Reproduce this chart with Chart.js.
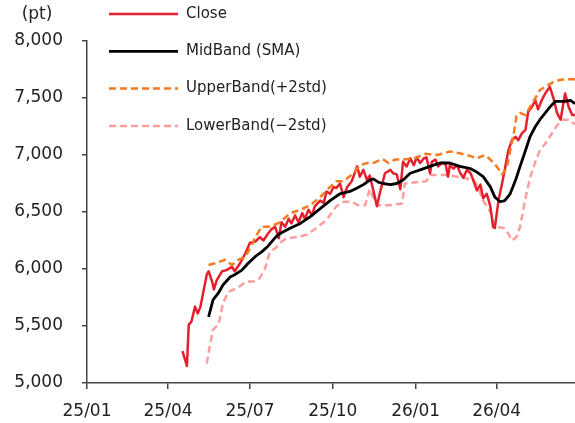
<!DOCTYPE html>
<html>
<head>
<meta charset="utf-8">
<script src="https://cdn.jsdelivr.net/npm/chart.js@4.4.1/dist/chart.umd.min.js"></script>
<style>
  html, body { margin: 0; padding: 0; background: #fff; }
</style>
</head>
<body>
<canvas id="myChart" width="575" height="423"></canvas>
<script>
// x values are days counted from 2025-01-01
var tickDays = [0, 90, 181, 273, 365, 455];
var tickLabels = ['25/01', '25/04', '25/07', '25/10', '26/01', '26/04'];

var closeDays = [106,111,113,116,120,123,126,129,133,135,
  139,141,144,150,155,161,164,170,176,181,
  187,192,196,201,205,209,213,216,220,224,
  227,231,235,239,242,246,250,253,259,263,
  266,270,274,277,281,285,289,294,300,303,
  307,311,314,318,322,326,331,337,340,344,
  348,351,355,359,363,366,370,374,377,381,
  383,387,390,394,398,401,403,407,411,414,
  418,422,426,429,433,437,440,444,448,451,
  453,457,461,464,468,472,476,479,483,487,
  490,494,498,501,505,509,514,518,522,526,
  531,535,539,542];
var closeValues = [5280,5150,5510,5540,5670,5610,5670,5790,5950,5980,
  5890,5820,5900,5980,5990,6020,5980,6050,6140,6230,
  6240,6280,6250,6310,6350,6370,6270,6410,6370,6440,
  6400,6470,6410,6490,6440,6520,6470,6550,6600,6580,
  6680,6660,6720,6710,6750,6630,6720,6770,6900,6810,
  6870,6780,6820,6690,6550,6690,6840,6870,6840,6830,
  6700,6940,6900,6970,6910,6980,6930,6970,6980,6840,
  6940,6960,6900,6930,6930,6810,6910,6880,6910,6850,
  6800,6870,6840,6780,6690,6740,6620,6660,6550,6370,
  6360,6600,6750,6870,7040,7130,7160,7130,7190,7220,
  7380,7420,7480,7400,7480,7540,7600,7500,7370,7310,
  7540,7420,7350,7350];

var midDays = [135,140,146,151,159,164,172,179,187,194, 201,209,214,226,237,248,259,270,281,292,
  300,307,314,318,324,329,337,344,351,359, 370,381,392,403,414,426,433,440,448,453,
  459,464,470,476,481,487,492,498,503,509, 514,520,526,531,537,542];
var midValues = [5580,5730,5790,5860,5930,5950,5990,6050,6110,6150, 6200,6275,6310,6360,6400,6460,6530,6600,6660,6680,
  6710,6740,6780,6790,6760,6750,6740,6750,6780,6840, 6870,6900,6930,6930,6900,6880,6850,6810,6720,6630,
  6590,6600,6660,6780,6900,7040,7160,7250,7310,7370, 7420,7470,7470,7470,7480,7450];

var upperDays = [135,142,153,161,168,176,181,187,194,201, 209,214,226,237,248,259,270,277,285,296,
  303,311,318,324,329,335,342,351,363,376, 389,403,414,426,433,442,448,455,461,466,
  470,474,477,481,487,492,498,503,511,518, 526,533,540,542];
var upperValues = [6035,6050,6080,6035,6080,6110,6180,6280,6370,6370, 6390,6410,6490,6520,6560,6630,6720,6770,6770,6840,
  6910,6930,6930,6950,6960,6930,6960,6960,6970,7010, 7000,7030,7015,6990,6970,7000,6960,6900,6830,6880,
  7040,7190,7340,7370,7350,7420,7500,7570,7610,7640, 7660,7665,7665,7665];

var lowerDays = [133,137,140,146,151,157,163,170,177,185, 192,198,203,209,216,222,233,244,255,266,
  277,285,294,301,309,314,322,337,350,353, 377,381,400,418,429,433,440,448,453,463,
  468,472,477,481,487,492,498,503,509,514, 522,529,535,540,542];
var lowerValues = [5170,5350,5470,5510,5700,5800,5820,5850,5890,5890, 5920,6010,6150,6180,6240,6270,6280,6300,6360,6430,
  6550,6590,6590,6560,6560,6700,6560,6560,6575,6750, 6770,6825,6825,6800,6780,6740,6600,6500,6370,6360,
  6310,6250,6280,6370,6620,6800,6940,7040,7100,7160, 7260,7310,7310,7280,7270];

function toPoints(days, values) {
  var pts = [];
  for (var i = 0; i < days.length; i++) {
    pts.push({ x: days[i], y: values[i] });
  }
  return pts;
}

var textColor = '#222222';
var axisColor = '#444444';
var fontFamily = '"DejaVu Sans", sans-serif';

// legend drawn by hand so it can sit above the plot, top left
var legendOrder = [2, 0, 1, 3];
var sideLegend = {
  id: 'sideLegend',
  afterDraw: function (chart) {
    var ctx = chart.ctx;
    ctx.save();
    legendOrder.forEach(function (idx, row) {
      var ds = chart.data.datasets[idx];
      var y = 14 + row * 37.3;
      ctx.beginPath();
      ctx.strokeStyle = ds.borderColor;
      ctx.lineWidth = ds.borderWidth;
      ctx.setLineDash(ds.borderDash || []);
      ctx.moveTo(109, y);
      ctx.lineTo(178, y);
      ctx.stroke();
      ctx.setLineDash([]);
      ctx.fillStyle = textColor;
      ctx.font = '15px ' + fontFamily;
      ctx.textAlign = 'left';
      ctx.textBaseline = 'middle';
      ctx.fillText(ds.label, 186, y);
    });
    ctx.font = '17px ' + fontFamily;
    ctx.textAlign = 'center';
    ctx.fillText('(pt)', 37, 15);
    ctx.restore();
  }
};

var ctx = document.getElementById('myChart');
var myChart = new Chart(ctx, {
  type: 'line',
  data: {
    datasets: [
      {
        label: 'MidBand (SMA)',
        data: toPoints(midDays, midValues),
        borderColor: '#000000',
        borderWidth: 2.8
      },
      {
        label: 'UpperBand(+2std)',
        data: toPoints(upperDays, upperValues),
        borderColor: '#F47B20',
        borderWidth: 2.5,
        borderDash: [7, 4]
      },
      {
        label: 'Close',
        data: toPoints(closeDays, closeValues),
        borderColor: '#E5202E',
        borderWidth: 2.5
      },
      {
        label: 'LowerBand(\u22122std)',
        data: toPoints(lowerDays, lowerValues),
        borderColor: '#FF9E9E',
        borderWidth: 2.5,
        borderDash: [7, 4]
      }
    ]
  },
  options: {
    responsive: false,
    animation: false,
    devicePixelRatio: 1,
    layout: { padding: { top: 41, right: 0, left: 0, bottom: 0 } },
    elements: {
      point: { radius: 0 },
      line: { tension: 0, borderCapStyle: 'butt', borderJoinStyle: 'round' }
    },
    plugins: {
      legend: { display: false },
      tooltip: { enabled: false }
    },
    scales: {
      x: {
        type: 'linear',
        min: 0,
        max: 542,
        afterBuildTicks: function (scale) {
          scale.ticks = tickDays.map(function (d) { return { value: d }; });
        },
        afterFit: function (scale) { scale.height = 40; },
        ticks: {
          autoSkip: false,
          maxRotation: 0,
          padding: 12,
          color: textColor,
          font: { family: fontFamily, size: 17 },
          callback: function (value) {
            var i = tickDays.indexOf(value);
            return i >= 0 ? tickLabels[i] : '';
          }
        },
        grid: { drawOnChartArea: false, drawTicks: true, tickLength: 6, color: axisColor, lineWidth: 1.5 },
        border: { display: true, color: axisColor, width: 1.5 }
      },
      y: {
        min: 5000,
        max: 8000,
        afterFit: function (scale) { scale.width = 87; },
        ticks: {
          stepSize: 500,
          padding: 19,
          color: textColor,
          font: { family: fontFamily, size: 17 },
          callback: function (value) { return value.toLocaleString('en-US'); }
        },
        grid: { drawOnChartArea: false, drawTicks: true, tickLength: 5, color: axisColor, lineWidth: 1.5 },
        border: { display: true, color: axisColor, width: 1.5 }
      }
    }
  },
  plugins: [sideLegend]
});
</script>
</body>
</html>
